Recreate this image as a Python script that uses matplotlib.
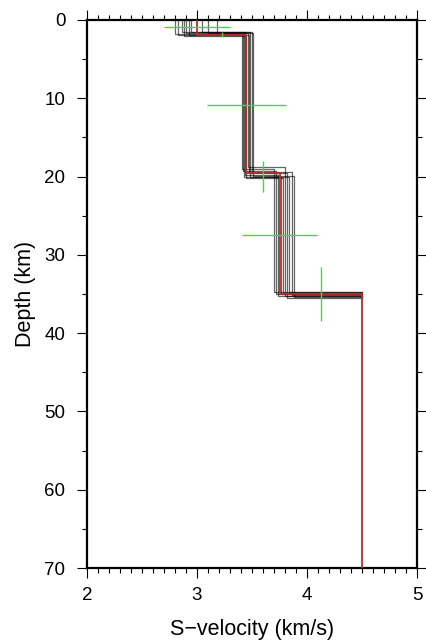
import matplotlib
matplotlib.use("Agg")
import matplotlib.pyplot as plt
from matplotlib.ticker import MultipleLocator

plt.rcParams['font.family'] = ['Liberation Sans', 'DejaVu Sans']

Z_BOTTOM = 70.0

# ensemble of accepted models: layer velocities (km/s) and interface depths (km)
ens_v1 = [2.80, 2.83, 2.86, 2.88, 2.90, 2.93, 2.95, 3.05, 3.10, 3.18]
ens_z1 = [1.8, 1.9, 1.6, 2.0, 1.7, 1.9, 1.5, 1.6, 1.7, 1.8]
ens_v2 = [3.41, 3.42, 3.44, 3.45, 3.46, 3.47, 3.48, 3.50, 3.51, 3.43]
ens_z2 = [19.0, 19.3, 19.8, 20.2, 18.8, 19.6, 20.0, 19.4, 19.9, 20.1]
ens_v3 = [3.70, 3.72, 3.74, 3.78, 3.80, 3.82, 3.84, 3.86, 3.88, 3.76]
ens_z3 = [34.7, 35.0, 35.3, 34.9, 35.2, 35.5, 34.8, 35.1, 35.4, 35.0]
ens_v4 = [4.50] * 10

# best model
best_v = [3.00, 3.45, 3.75, 4.50]
best_z = [1.9, 19.5, 35.0]

# uncertainty crosses (velocity, depth, +-velocity, +-depth)
cross_v = [3.00, 3.23, 3.45, 3.60, 3.75, 4.13]
cross_z = [0.95, 1.9, 10.9, 20.0, 27.5, 35.0]
cross_dv = [0.30, 0.0, 0.355, 0.0, 0.345, 0.0]
cross_dz = [0.0, 0.3, 0.0, 1.95, 0.0, 3.5]


def step_profile(vs, zs, z_bottom=Z_BOTTOM):
    x, y = [], []
    tops = [0.0] + list(zs)
    bots = list(zs) + [z_bottom]
    for v, t, b in zip(vs, tops, bots):
        x += [v, v]
        y += [t, b]
    return x, y


fig = plt.figure(figsize=(4.26, 6.44), dpi=100)
ax = fig.add_axes([0.2042, 0.118, 0.7747, 0.851])

# ensemble models stop at the top of the half-space, the best model goes on
for i in range(len(ens_v1)):
    x, y = step_profile([ens_v1[i], ens_v2[i], ens_v3[i], ens_v4[i]],
                        [ens_z1[i], ens_z2[i], ens_z3[i]], z_bottom=ens_z3[i])
    ax.plot(x, y, color='black', lw=0.9, alpha=0.6, zorder=2)

x, y = step_profile(best_v, best_z)
ax.plot(x, y, color='#b42c2c', lw=1.3, zorder=3)

ax.errorbar(cross_v, cross_z, xerr=cross_dv, yerr=cross_dz, fmt='none',
            ecolor='#3cdc3c', elinewidth=1.0, capsize=0, zorder=4)

ax.set_xlim(2, 5)
ax.set_ylim(70, 0)
ax.xaxis.set_major_locator(MultipleLocator(1))
ax.xaxis.set_minor_locator(MultipleLocator(0.1))
ax.yaxis.set_major_locator(MultipleLocator(10))
ax.yaxis.set_minor_locator(MultipleLocator(5))

ax.tick_params(which='both', direction='out', top=True, right=True,
               labeltop=False, labelright=False, width=0.8, labelsize=13.5)
ax.tick_params(which='major', length=7.5)
ax.tick_params(which='minor', length=3.6)
ax.tick_params(axis='x', which='major', pad=6)
ax.tick_params(axis='y', which='major', pad=8)

for sp in ax.spines.values():
    sp.set_linewidth(1.6)

ax.set_xlabel("S\u2212velocity (km/s)", fontsize=15.5, labelpad=11)
ax.set_ylabel("Depth (km)", fontsize=15.5, labelpad=6)

fig.savefig("out.png", dpi=100)
